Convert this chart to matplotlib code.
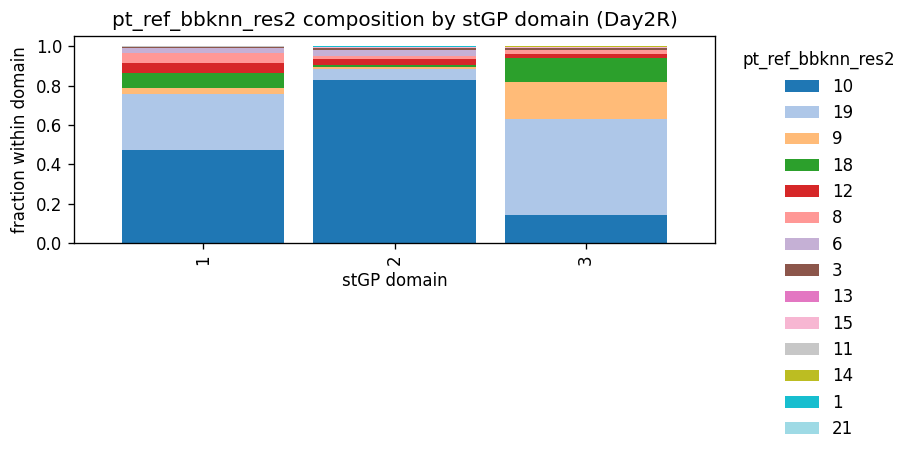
import matplotlib
matplotlib.use("Agg")
import matplotlib.pyplot as plt
import numpy as np
import pandas as pd

domains = ["1", "2", "3"]
clusters = ["10", "19", "9", "18", "12", "8", "6", "3", "13", "15", "11", "14", "1", "21"]

# fraction of each cluster within each domain
frac_d1 = [0.475, 0.284, 0.029, 0.076, 0.051, 0.049, 0.029, 0.003, 0.001, 0.001, 0.001, 0.003, 0.000, 0.000]
frac_d2 = [0.829, 0.056, 0.008, 0.012, 0.030, 0.015, 0.031, 0.012, 0.000, 0.001, 0.001, 0.000, 0.005, 0.000]
frac_d3 = [0.140, 0.491, 0.189, 0.122, 0.019, 0.020, 0.002, 0.009, 0.000, 0.003, 0.000, 0.005, 0.000, 0.000]

df = pd.DataFrame([frac_d1, frac_d2, frac_d3], index=domains, columns=clusters)

fig = plt.figure(figsize=(913 / 120, 457 / 120), dpi=120)
ax = fig.add_axes([74 / 913, 1 - 243 / 457, (715 - 74) / 913, (243 - 36) / 457])
df.plot(kind="bar", stacked=True, colormap="tab20", width=0.85, ax=ax)

ax.set_title("pt_ref_bbknn_res2 composition by stGP domain (Day2R)")
ax.set_xlabel("stGP domain")
ax.set_ylabel("fraction within domain")
ax.legend(title="pt_ref_bbknn_res2", bbox_to_anchor=(1.02, 1.0), loc="upper left", frameon=False)

fig.savefig("out.png", dpi=120)
